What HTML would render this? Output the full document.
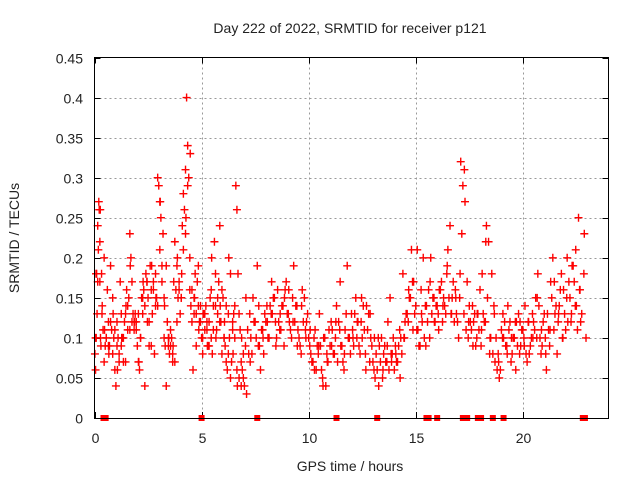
<!DOCTYPE html>
<html><head><meta charset="utf-8"><style>
body{margin:0;background:#fff}
svg text{font-family:"Liberation Sans",sans-serif;fill:#222}
</style></head><body>
<svg id="chart" width="640" height="480" xmlns="http://www.w3.org/2000/svg">
<rect width="640" height="480" fill="#fff"/>
<text x="350" y="33" font-size="14" text-anchor="middle">Day 222 of 2022, SRMTID for receiver p121</text>
<text transform="translate(19,238) rotate(-90)" font-size="14" text-anchor="middle">SRMTID / TECUs</text>
<text x="350" y="471" font-size="14" text-anchor="middle">GPS time / hours</text>
<g id="grid"></g>
<g id="ticks"></g>
<g id="marks"></g>
<rect x="94.5" y="57.5" width="514" height="361" fill="none" stroke="#000" stroke-width="1"/>
</svg>
<script>
const xTicks=[0,5,10,15,20];
const yTicks=[0,0.05,0.1,0.15,0.2,0.25,0.3,0.35,0.4,0.45];
const yTickLabels=["0","0.05","0.1","0.15","0.2","0.25","0.3","0.35","0.4","0.45"];
const times=[0.02,0.05,0.08,0.1,0.12,0.15,0.18,0.2,0.22,0.25,0.28,0.3,0.33,0.36,0.4,0.45,0.5,0.55,0.6,0.65,0.7,0.75,0.8,0.85,0.9,0.95,1.0,1.05,1.1,1.15,1.2,1.25,1.3,1.35,1.4,1.45,1.5,1.55,1.6,1.65,1.7,1.75,1.8,1.85,1.9,1.95,2.0,2.05,2.1,2.15,2.2,2.25,2.3,2.35,2.4,2.45,2.5,2.55,2.6,2.65,2.7,2.75,2.8,2.85,2.9,2.95,3.0,3.05,3.1,3.15,3.2,3.25,3.3,3.35,3.4,3.45,3.5,3.55,3.6,3.65,3.7,3.75,3.8,3.85,3.9,3.95,4.0,4.05,4.1,4.15,4.2,4.25,4.3,4.35,4.4,4.45,4.5,4.55,4.6,4.65,4.7,4.75,4.8,4.85,4.9,4.95,5.0,5.05,5.1,5.15,5.2,5.25,5.3,5.35,5.4,5.45,5.5,5.55,5.6,5.65,5.7,5.75,5.8,5.85,5.9,5.95,6.0,6.05,6.1,6.15,6.2,6.25,6.3,6.35,6.4,6.45,6.5,6.55,6.6,6.65,6.7,6.75,6.8,6.85,6.9,6.95,7.0,7.1,7.2,7.3,7.4,7.5,7.6,7.7,7.8,7.9,8.0,8.1,8.2,8.3,8.4,8.5,8.6,8.7,8.8,8.9,9.0,9.1,9.2,9.3,9.4,9.5,9.6,9.7,9.8,9.9,10.0,10.1,10.2,10.3,10.4,10.5,10.6,10.7,10.8,10.9,11.0,11.1,11.2,11.3,11.4,11.5,11.6,11.7,11.8,11.9,12.0,12.1,12.2,12.3,12.4,12.5,12.6,12.7,12.8,12.9,13.0,13.1,13.2,13.3,13.4,13.5,13.6,13.7,13.8,13.9,14.0,14.1,14.2,14.3,14.4,14.5,14.6,14.7,14.8,14.9,15.0,15.1,15.2,15.3,15.4,15.5,15.6,15.7,15.8,15.9,16.0,16.1,16.2,16.3,16.4,16.5,16.6,16.7,16.8,16.9,17.0,17.1,17.2,17.3,17.4,17.5,17.6,17.7,17.8,17.9,18.0,18.1,18.2,18.3,18.4,18.5,18.6,18.7,18.8,18.9,19.0,19.1,19.2,19.3,19.4,19.5,19.6,19.7,19.8,19.9,20.0,20.1,20.2,20.3,20.4,20.5,20.6,20.7,20.8,20.9,21.0,21.1,21.2,21.3,21.4,21.5,21.6,21.7,21.8,21.9,22.0,22.1,22.2,22.3,22.4,22.5,22.6,22.7,22.8,22.9,0.42,0.48,0.52,5.0,7.6,11.3,13.2,15.5,15.6,16.0,17.2,17.3,17.4,17.9,17.95,18.05,18.6,19.1,19.4,22.8];
const values=[0.08,0.06,0.1,0.18,0.13,0.24,0.21,0.27,0.26,0.17,0.1,0.09,0.18,0.14,0.11,0.2,0.09,0.1,0.16,0.12,0.09,0.19,0.11,0.08,0.1,0.06,0.04,0.12,0.1,0.07,0.17,0.09,0.1,0.07,0.12,0.13,0.16,0.11,0.15,0.23,0.2,0.12,0.13,0.11,0.13,0.12,0.09,0.07,0.06,0.1,0.15,0.13,0.16,0.04,0.18,0.17,0.15,0.09,0.19,0.16,0.13,0.17,0.08,0.14,0.15,0.3,0.29,0.27,0.25,0.19,0.23,0.1,0.09,0.04,0.12,0.1,0.08,0.09,0.1,0.07,0.17,0.22,0.16,0.19,0.15,0.17,0.13,0.15,0.24,0.28,0.26,0.31,0.4,0.34,0.3,0.16,0.14,0.12,0.06,0.15,0.18,0.13,0.17,0.19,0.12,0.14,0.1,0.08,0.13,0.11,0.14,0.11,0.09,0.12,0.15,0.1,0.08,0.14,0.22,0.18,0.11,0.13,0.17,0.24,0.12,0.16,0.15,0.1,0.09,0.14,0.06,0.08,0.1,0.05,0.07,0.12,0.13,0.1,0.29,0.26,0.18,0.13,0.11,0.07,0.06,0.05,0.04,0.03,0.08,0.1,0.15,0.12,0.19,0.09,0.11,0.08,0.12,0.1,0.14,0.13,0.15,0.1,0.12,0.11,0.14,0.16,0.13,0.12,0.1,0.19,0.14,0.11,0.09,0.16,0.15,0.12,0.1,0.08,0.07,0.11,0.09,0.13,0.06,0.1,0.04,0.07,0.09,0.11,0.08,0.14,0.12,0.09,0.07,0.11,0.19,0.1,0.13,0.09,0.15,0.12,0.08,0.1,0.11,0.14,0.13,0.1,0.07,0.05,0.06,0.09,0.1,0.08,0.07,0.12,0.15,0.08,0.06,0.07,0.09,0.1,0.18,0.12,0.13,0.15,0.21,0.17,0.14,0.11,0.09,0.12,0.1,0.14,0.16,0.2,0.15,0.12,0.14,0.16,0.17,0.15,0.13,0.21,0.24,0.15,0.12,0.13,0.1,0.32,0.29,0.27,0.17,0.14,0.11,0.12,0.09,0.13,0.16,0.18,0.12,0.24,0.22,0.1,0.08,0.07,0.06,0.05,0.11,0.1,0.09,0.14,0.12,0.08,0.1,0.12,0.13,0.09,0.11,0.14,0.07,0.08,0.1,0.12,0.15,0.18,0.1,0.09,0.13,0.06,0.11,0.17,0.2,0.13,0.08,0.14,0.18,0.16,0.11,0.12,0.15,0.19,0.17,0.14,0.25,0.12,0,0,0,0,0,0,0,0,0,0,0,0,0,0,0,0,0,0,0,0];
/* additional samples per hour, 10 per hour at h+0.05+k*0.1 */
const hourlyValuesA=[
[0.1,0.17,0.22,0.13,0.07,0.1,0.09,0.12,0.15,0.11],[0.09,0.08,0.13,0.1,0.07,0.14,0.11,0.17,0.12,0.11],
[0.13,0.1,0.15,0.14,0.17,0.12,0.09,0.16,0.18,0.14],[0.21,0.17,0.15,0.19,0.09,0.11,0.08,0.07,0.12,0.16],
[0.15,0.21,0.23,0.29,0.2,0.16,0.13,0.09,0.14,0.12],[0.1,0.13,0.12,0.09,0.16,0.11,0.14,0.15,0.12,0.08],
[0.1,0.07,0.13,0.18,0.11,0.14,0.06,0.05,0.04,0.08],[0.09,0.11,0.13,0.08,0.12,0.1,0.09,0.06,0.11,0.13],
[0.14,0.1,0.13,0.15,0.12,0.16,0.11,0.14,0.09,0.17],[0.13,0.11,0.15,0.12,0.14,0.1,0.08,0.12,0.11,0.13],
[0.09,0.07,0.1,0.06,0.08,0.09,0.05,0.1,0.08,0.11],[0.12,0.08,0.1,0.07,0.11,0.09,0.06,0.13,0.1,0.08],
[0.11,0.13,0.1,0.09,0.12,0.14,0.08,0.11,0.07,0.09],[0.06,0.08,0.1,0.07,0.05,0.09,0.07,0.06,0.08,0.1],
[0.09,0.07,0.11,0.08,0.1,0.13,0.12,0.15,0.17,0.13],[0.11,0.09,0.16,0.2,0.14,0.12,0.1,0.13,0.15,0.14],
[0.13,0.16,0.12,0.14,0.18,0.15,0.13,0.17,0.16,0.12],[0.15,0.23,0.13,0.11,0.1,0.12,0.14,0.13,0.1,0.11],
[0.09,0.13,0.12,0.15,0.08,0.18,0.14,0.1,0.08,0.06],[0.1,0.12,0.09,0.11,0.07,0.1,0.12,0.09,0.08,0.11],
[0.1,0.08,0.12,0.09,0.13,0.11,0.1,0.14,0.08,0.12],[0.1,0.13,0.09,0.15,0.11,0.14,0.12,0.16,0.1,0.13],
[0.15,0.17,0.12,0.19,0.14,0.11,0.16,0.13,0.18,0.1]];
/* additional samples per hour, 5 per hour at h+0.07+k*0.2 */
const hourlyValuesB=[
[0.18,0.26,0.11,0.08,0.13],[0.06,0.1,0.14,0.19,0.12],[0.07,0.17,0.12,0.19,0.15],[0.27,0.14,0.1,0.09,0.2],
[0.18,0.25,0.33,0.15,0.11],[0.13,0.09,0.2,0.1,0.14],[0.12,0.2,0.08,0.04,0.1],[0.15,0.07,0.12,0.14,0.1],
[0.12,0.17,0.09,0.13,0.15],[0.16,0.12,0.09,0.14,0.1],[0.11,0.06,0.09,0.04,0.07],[0.09,0.12,0.17,0.08,0.1],
[0.1,0.12,0.15,0.06,0.13],[0.1,0.04,0.06,0.09,0.07],[0.08,0.05,0.1,0.16,0.11],[0.21,0.13,0.09,0.17,0.12],
[0.11,0.14,0.19,0.13,0.15],[0.18,0.31,0.12,0.09,0.13],[0.11,0.22,0.1,0.13,0.07],[0.13,0.08,0.1,0.06,0.12],
[0.09,0.12,0.1,0.15,0.11],[0.08,0.11,0.17,0.13,0.1],[0.2,0.13,0.21,0.16,0.23]];
const X0=94.5,X1=608.5,Y0=418,Y1=57.5;
const xs=h=>X0+(h/24)*(X1-X0);
const ys=v=>Y0-(v/0.45)*(Y0-Y1);
const NS="http://www.w3.org/2000/svg";
const grid=document.getElementById('grid'),ticks=document.getElementById('ticks'),marks=document.getElementById('marks');
function mk(tag,attrs,parent){const e=document.createElementNS(NS,tag);for(const k in attrs)e.setAttribute(k,attrs[k]);parent.appendChild(e);return e;}
xTicks.forEach(t=>{const x=Math.round(xs(t))+0.5;
 if(t>0){const g=mk('line',{x1:x,x2:x,y1:Y1,y2:Y0,stroke:'#999','stroke-dasharray':'2,3'},grid);
 
 }
 mk('line',{x1:x,x2:x,y1:Y0,y2:Y0-6,stroke:'#000'},ticks);
 mk('line',{x1:x,x2:x,y1:Y1,y2:Y1+6,stroke:'#000'},ticks);
 const l=mk('text',{x:x,y:443,'font-size':14,'text-anchor':'middle'},ticks);l.textContent=t;
 
 });
yTicks.forEach((t,i)=>{const y=Math.round(ys(t))+0.5;
 if(t>0&&t<0.45){const g=mk('line',{x1:X0,x2:X1,y1:y,y2:y,stroke:'#999','stroke-dasharray':'2,3'},grid);
 
 }
 mk('line',{x1:X0,x2:X0+6,y1:y,y2:y,stroke:'#000'},ticks);
 mk('line',{x1:X1,x2:X1-6,y1:y,y2:y,stroke:'#000'},ticks);
 const l=mk('text',{x:83,y:y+5,'font-size':14,'text-anchor':'end'},ticks);l.textContent=yTickLabels[i];
 
 });
function plotPoint(t,v){const x=xs(t),y=ys(v);
 let p;
 if(v===0){p=mk('rect',{x:x-3,y:y-3,width:6,height:6,fill:'#f00'},marks);}
 else{p=mk('path',{d:`M${x-4},${y}H${x+4}M${x},${y-4}V${y+4}`,stroke:'#f00','stroke-width':1.4},marks);}
 
 }
times.forEach((t,i)=>plotPoint(t,values[i]));
hourlyValuesA.forEach((row,h)=>row.forEach((v,k)=>plotPoint(h+0.05+k*0.1,v)));
hourlyValuesB.forEach((row,h)=>row.forEach((v,k)=>plotPoint(h+0.07+k*0.2,v)));
</script>
</body></html>
